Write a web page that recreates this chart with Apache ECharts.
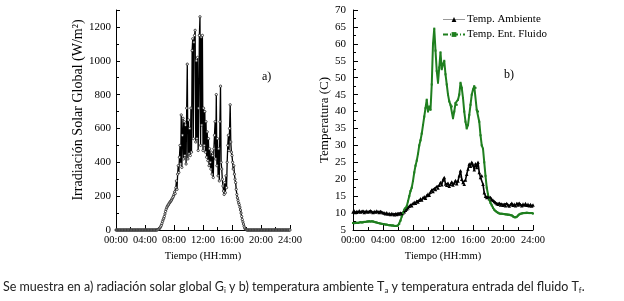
<!DOCTYPE html>
<html><head><meta charset="utf-8">
<script src="https://cdn.jsdelivr.net/npm/echarts@6/dist/echarts.min.js"></script>
<style>html,body{margin:0;padding:0;background:#fff}#c{width:624px;height:301px}</style>
</head><body><div id="c"></div>
<script>
// ---- data ----
// Radiation sampled every 5 minutes from 00:00 to 24:00 (W/m2)
const radStartHour = 0;
const radStepMin = 5;
const radiation = [
0,0,0,0,0,0,0,0,0,0,0,0,
0,0,0,0,0,0,0,0,0,0,0,0,
0,0,0,0,0,0,0,0,0,0,0,0,
0,0,0,0,0,0,0,0,0,0,0,0,
0,0,0,0,0,0,0,0,0,0,0,0,
0,0,0,0,0,0,0,0,1,2,4,6,
10,14,20,28,38,50,60,70,80,95,110,122,
132,140,146,150,158,162,168,172,178,185,192,200,
210,225,215,250,290,240,330,380,340,430,500,390,
680,370,560,660,420,640,440,620,390,720,980,420,
650,450,600,440,720,460,1060,1130,540,1110,1150,1180,
520,1000,540,1020,470,720,1150,1260,500,1140,620,1150,
470,720,500,700,460,640,430,580,410,540,380,480,
400,360,460,330,440,310,480,560,640,420,800,380,
540,320,480,290,640,850,400,360,300,260,230,210,
280,220,320,250,400,500,560,470,600,740,520,460,
440,400,360,380,330,300,280,240,210,190,175,160,
150,135,118,100,80,62,48,35,22,12,6,3,
1,0,0,0,0,0,0,0,0,0,0,0,
0,0,0,0,0,0,0,0,0,0,0,0,
0,0,0,0,0,0,0,0,0,0,0,0,
0,0,0,0,0,0,0,0,0,0,0,0,
0,0,0,0,0,0,0,0,0,0,0,0,
0,0,0,0,0,0,0,0,0,0,0,0,
0
];
// Temperatures sampled every 10 minutes from 00:00 to 24:00 (C)
const tempStartHour = 0;
const tempStepMin = 10;
const tempAmbiente = [
10.3,10.6,10.2,10.5,10.4,10.7,
10.3,10.5,10.6,10.2,10.4,10.6,
10.3,10.5,10.7,10.4,10.2,10.5,
10.3,10.6,10.4,10.2,10.5,10.3,
10.1,10.0,9.8,10.1,9.7,9.9,
9.6,9.9,9.7,9.5,9.8,9.6,
9.9,9.7,10.0,9.8,10.1,10.4,
10.8,11.2,11.6,12.0,12.4,12.2,
12.8,13.2,12.9,13.5,13.3,13.8,
14.2,13.9,14.5,14.8,14.4,15.2,
15.6,15.3,16.2,16.8,16.4,17.2,
17.0,17.8,17.4,18.2,19.0,18.4,
19.8,20.5,18.6,18.2,18.8,17.9,
18.5,19.2,18.3,18.9,19.6,18.7,
19.5,21.0,22.5,20.0,19.0,18.5,
19.8,21.5,23.0,24.5,23.8,25.0,
24.2,22.8,24.6,23.5,25.0,22.0,
20.5,21.0,18.5,16.0,15.0,14.6,
14.8,14.3,14.6,14.0,13.8,13.4,
13.1,12.8,12.6,12.9,12.4,12.7,
12.3,12.6,12.2,12.8,12.4,12.1,
12.5,12.9,12.3,12.6,12.2,12.8,
12.4,12.9,12.5,12.2,12.7,12.4,
12.8,12.3,12.6,12.2,12.5,12.1,
12.4
];
const tempFluido = [
7.1,7.0,7.1,7.2,7.1,7.2,
7.3,7.2,7.3,7.4,7.4,7.5,
7.5,7.6,7.5,7.6,7.5,7.4,
7.3,7.2,7.1,7.0,6.9,6.8,
6.8,6.7,6.6,6.6,6.5,6.4,
6.4,6.3,6.3,6.2,6.2,6.2,
6.3,6.8,7.8,9.0,10.0,11.0,
11.5,12.0,13.5,15.0,16.5,17.5,
19.5,22.0,24.0,25.5,27.5,30.0,
31.5,33.5,36.0,38.5,41.0,43.5,
40.0,41.5,40.5,48.0,60.0,64.5,
58.0,52.0,48.5,53.0,57.5,52.5,
54.0,55.0,51.0,48.0,45.0,43.0,
42.0,41.5,38.0,40.0,42.5,42.0,
43.5,45.0,48.5,47.0,44.0,40.0,
37.0,35.0,36.0,39.0,42.0,45.0,
46.5,47.5,47.0,40.5,40.0,37.0,
33.0,30.0,29.0,25.0,21.0,17.5,
15.5,14.0,13.0,12.3,11.6,11.0,
10.6,10.3,10.1,9.9,9.8,9.8,
9.7,9.7,9.6,9.6,9.5,9.5,
9.4,9.3,9.0,8.8,8.7,8.9,
9.3,9.6,9.8,9.9,10.0,10.0,
10.0,10.1,10.0,10.0,10.0,10.0,
9.9
];
const radName = 'Irradiación Solar Global (W/m²)';
const tempName = 'Temperatura (C)';
const timeName = 'Tiempo (HH:mm)';
const seriesNames = ['Temp. Ambiente', 'Temp. Ent. Fluido'];

// ---- build ----
const toPairs = (arr, start, stepMin) => arr.map((v, i) => [start + i * stepMin / 60, v]);
const serif = 'Liberation Serif';
const fmtTime = v => '{t|' + (v < 10 ? '0' : '') + v + ':00}';
const fmtNum = v => '{t|' + v + '}';
const labRich = (size) => ({ t: { fontFamily: serif, fontSize: size, color: '#000' } });

function xAxis(gi) {
  return {
    type: 'value', gridIndex: gi, min: 0, max: 24, interval: 4,
    name: timeName, nameLocation: 'middle', nameGap: 19,
    nameTextStyle: { fontFamily: serif, fontSize: 10.5, color: '#000' },
    axisLine: { lineStyle: { color: '#000', width: 1 } },
    axisTick: { inside: true, length: 5, lineStyle: { color: '#000' } },
    minorTick: { show: true, splitNumber: 2, length: 3, lineStyle: { color: '#000' } },
    splitLine: { show: false },
    axisLabel: { fontFamily: serif, fontSize: 10.5, color: '#000', margin: 5, formatter: fmtTime, rich: labRich(10.5) }
  };
}

const chart = echarts.init(document.getElementById('c'), null, { renderer: 'canvas' });
chart.setOption({
  animation: false,
  backgroundColor: '#fff',
  textStyle: { fontFamily: serif },
  grid: [
    { left: 116, right: 334, top: 10, bottom: 71 },
    { left: 353, right: 91, top: 10, bottom: 71 }
  ],
  xAxis: [xAxis(0), xAxis(1)],
  yAxis: [
    {
      type: 'value', gridIndex: 0, min: 0, max: 1300, interval: 200,
      name: radName, nameLocation: 'middle', nameGap: 27,
      nameTextStyle: { fontFamily: serif, fontSize: 14, color: '#000', padding: [0, 0, 0, 20] },
      axisLine: { show: true, lineStyle: { color: '#000' } },
      axisTick: { show: true, inside: true, length: 4, lineStyle: { color: '#000' } },
      minorTick: { show: true, splitNumber: 2, length: 3, lineStyle: { color: '#000' } },
      splitLine: { show: false },
      axisLabel: { fontFamily: serif, fontSize: 11, color: '#000', margin: 5, showMaxLabel: false, formatter: fmtNum, rich: labRich(11) }
    },
    {
      type: 'value', gridIndex: 1, min: 5, max: 70, interval: 5,
      name: tempName, nameLocation: 'middle', nameGap: 20,
      nameTextStyle: { fontFamily: serif, fontSize: 13, color: '#000' },
      axisLine: { show: true, lineStyle: { color: '#000' } },
      axisTick: { show: true, inside: true, length: 5, lineStyle: { color: '#000' } },
      minorTick: { show: true, splitNumber: 2, length: 3, lineStyle: { color: '#000' } },
      splitLine: { show: false },
      axisLabel: { fontFamily: serif, fontSize: 11, color: '#000', margin: 7, formatter: fmtNum, rich: labRich(11) }
    }
  ],
  legend: {
    orient: 'vertical', left: 437, top: 9, itemGap: 4,
    itemWidth: 22, itemHeight: 6,
    textStyle: { fontFamily: serif, fontSize: 11, color: '#000', padding: [0, 0, 0, -3] },
    data: [
      { name: seriesNames[0], lineStyle: { color: '#999', width: 1 }, itemStyle: { color: '#000' } },
      { name: seriesNames[1], lineStyle: { color: '#1f7f1f', width: 2, type: [5, 2, 1, 2] }, itemStyle: { color: '#1f7f1f' } }
    ]
  },
  graphic: [
    { type: 'text', left: 262, top: 71, style: { text: 'a)', font: '12px "Liberation Serif"', fill: '#000' } },
    { type: 'text', left: 504, top: 69, style: { text: 'b)', font: '12px "Liberation Serif"', fill: '#000' } },
    { type: 'text', left: 3, top: 280, style: {
        text: 'Se muestra en a) radiación solar global G{s|i} y b) temperatura ambiente T{s|a} y temperatura entrada del fluido T{s|f}.',
        font: '12.5px Lato', fill: '#222',
        rich: { s: { fontSize: 8, fontFamily: 'Lato', fill: '#222', padding: [7, 0, 0, 0] } }
    } }
  ],
  series: [
    {
      type: 'line', xAxisIndex: 0, yAxisIndex: 0, name: 'Radiación',
      data: toPairs(radiation, radStartHour, radStepMin),
      lineStyle: { color: '#000', width: 1.3 },
      symbol: 'circle', symbolSize: 2.3, showAllSymbol: true,
      itemStyle: { color: '#fff', borderColor: '#222', borderWidth: 0.8 }
    },
    {
      type: 'line', xAxisIndex: 1, yAxisIndex: 1, name: seriesNames[0],
      data: toPairs(tempAmbiente, tempStartHour, tempStepMin),
      lineStyle: { color: '#000', width: 1.6 },
      symbol: 'triangle', symbolSize: 3.5, showAllSymbol: true,
      itemStyle: { color: '#000' }
    },
    {
      type: 'line', xAxisIndex: 1, yAxisIndex: 1, name: seriesNames[1],
      data: toPairs(tempFluido, tempStartHour, tempStepMin),
      lineStyle: { color: '#1f7f1f', width: 2 },
      symbol: 'rect', symbolSize: 2, showAllSymbol: true,
      itemStyle: { color: '#1f7f1f' }
    }
  ]
});
</script></body></html>
